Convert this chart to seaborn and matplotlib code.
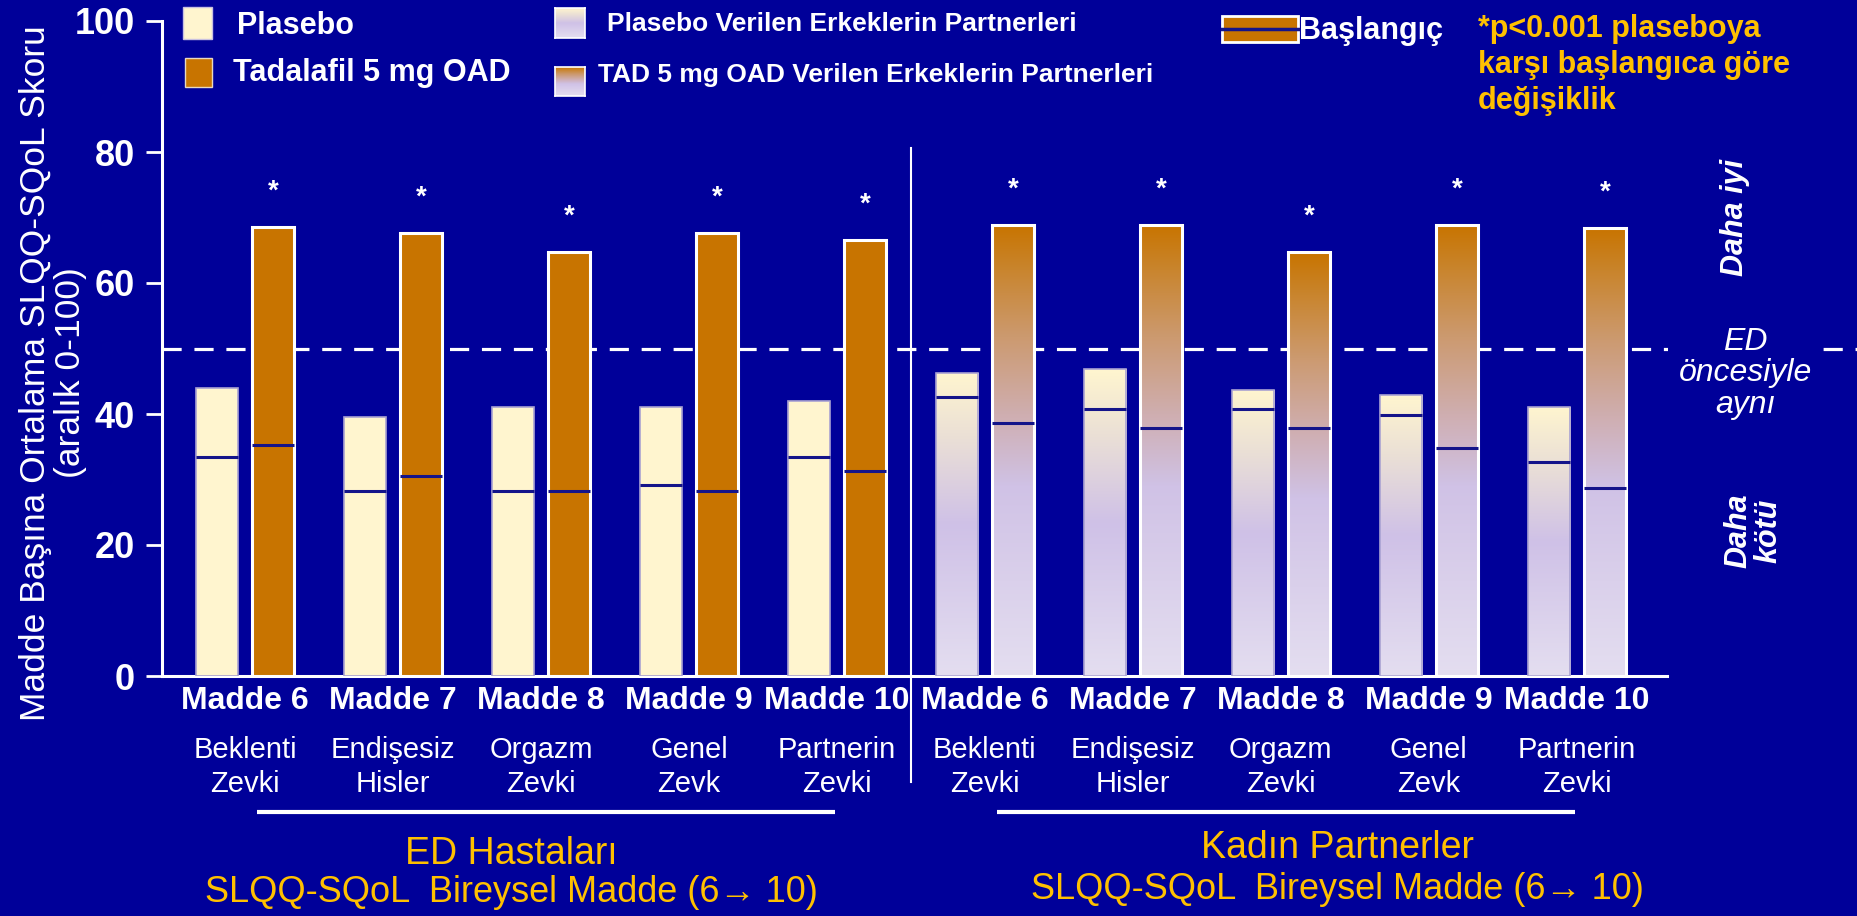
import numpy as np
import pandas as pd
import matplotlib
matplotlib.use("Agg")
import matplotlib.pyplot as plt
import matplotlib.transforms as mtransforms
from matplotlib.colors import LinearSegmentedColormap
from matplotlib.patches import Rectangle
from matplotlib.lines import Line2D
import seaborn as sns

plt.rcParams['font.family'] = ['Liberation Sans', 'DejaVu Sans']

# values
madde_adlari = ["Madde 6", "Madde 7", "Madde 8", "Madde 9", "Madde 10"]
madde_aciklama = ["Beklenti\nZevki", "Endişesiz\nHisler", "Orgazm\nZevki", "Genel\nZevk", "Partnerin\nZevki"]
gruplar = ["ED", "Partner"]
tedaviler = ["Plasebo", "Tadalafil 5 mg OAD"]

ed_plasebo = [44.0, 39.6, 41.0, 41.0, 42.0]
ed_tad = [68.6, 67.7, 64.7, 67.7, 66.5]
partner_plasebo = [46.3, 46.8, 43.6, 42.9, 41.1]
partner_tad = [68.9, 68.9, 64.7, 68.9, 68.4]

ed_plasebo_bas = [33.5, 28.3, 28.3, 29.1, 33.5]
ed_tad_bas = [35.2, 30.5, 28.3, 28.3, 31.3]
partner_plasebo_bas = [42.6, 40.8, 40.8, 39.9, 32.6]
partner_tad_bas = [38.7, 37.8, 37.8, 34.8, 28.7]

yildiz = ["*"] * 10

BG = "#000099"
KREM = "#FFF5CF"
TURUNCU = "#C87400"
LACI = "#14148A"
SARI = "#FFC000"

rows = []
for g, pl, td in [("ED", ed_plasebo, ed_tad), ("Partner", partner_plasebo, partner_tad)]:
    for m, a, b in zip(madde_adlari, pl, td):
        rows.append({"kat": f"{g} {m}", "tedavi": tedaviler[0], "skor": a})
        rows.append({"kat": f"{g} {m}", "tedavi": tedaviler[1], "skor": b})
df = pd.DataFrame(rows)
order = [f"{g} {m}" for g in gruplar for m in madde_adlari]

W, H = 1858, 916
fig = plt.figure(figsize=(W / 100, H / 100), dpi=100, facecolor=BG)
ax = fig.add_axes([162 / W, 1 - 676 / H, (1667 - 162) / W, (676 - 21) / H])
ax.set_facecolor(BG)

sns.barplot(data=df, x="kat", y="skor", hue="tedavi", order=order, hue_order=tedaviler,
            palette=[KREM, TURUNCU], saturation=1, width=0.76, gap=0.25,
            legend=False, ax=ax, zorder=3)

pl_bars, td_bars = ax.containers[0], ax.containers[1]
pl_bas = ed_plasebo_bas + partner_plasebo_bas
td_bas = ed_tad_bas + partner_tad_bas

pg = LinearSegmentedColormap.from_list("pg", [(0, "#E4DEF0"), (0.5, "#CFC1E7"), (0.78, "#EADFD6"), (1, "#FFF5CF")])
tg = LinearSegmentedColormap.from_list("tg", [(0, "#E4DEF0"), (0.42, "#D0C2E6"), (0.58, "#CFAEB0"),
                                              (0.75, "#CC9A70"), (0.9, "#C9852E"), (1, TURUNCU)])
grad = np.linspace(0, 1, 256).reshape(-1, 1)
n_ed = len(madde_adlari)

for bars, bas, cmap, ec, lw in [(pl_bars, pl_bas, pg, "#A9A2D2", 1.2), (td_bars, td_bas, tg, "white", 2.2)]:
    for i, p in enumerate(bars):
        p.set_edgecolor(ec)
        p.set_linewidth(lw)
        p.set_zorder(3)
        x0, w, h = p.get_x(), p.get_width(), p.get_height()
        if i >= n_ed:
            p.set_facecolor("none")
            im = ax.imshow(grad, extent=[x0, x0 + w, 0, h], origin="lower", aspect="auto",
                           cmap=cmap, zorder=2.5)
            im.set_clip_path(p)
        ax.hlines(bas[i], x0, x0 + w, color=LACI, lw=2.2, zorder=4)

for i, p in enumerate(td_bars):
    ax.text(p.get_x() + p.get_width() / 2, p.get_height() + 5.4, yildiz[i], color="white",
            ha="center", va="center", fontsize=20, fontweight="bold")

ax.set_xlim(-0.561, 9.61)
ax.set_ylim(0, 100)
ax.set_yticks([0, 20, 40, 60, 80, 100])
ax.set_xticks(range(len(order)), labels=madde_adlari * 2)
ax.tick_params(axis="y", colors="white", length=11.5, width=2, labelsize=26, pad=8)
ax.tick_params(axis="x", colors="white", length=0, labelsize=23, pad=7)
for t in ax.get_xticklabels() + ax.get_yticklabels():
    t.set_fontweight("bold")
ax.set_xlabel("")
ax.set_ylabel("")
for s in ["top", "right"]:
    ax.spines[s].set_visible(False)
for s in ["left", "bottom"]:
    ax.spines[s].set_color("white")
    ax.spines[s].set_linewidth(2.2)

# reference line at 50 (same as before ED)
ax.axhline(50, xmin=0, xmax=(W - 162) / (1667 - 162), color="white", lw=2.3,
           ls=(0, (6, 4)), clip_on=False, zorder=1.5)
ax.axvline(n_ed - 0.5, ymin=-0.162, ymax=0.806, color="white", lw=1.5, clip_on=False)

tr = mtransforms.blended_transform_factory(ax.transData, ax.transAxes)
for i, a in enumerate(madde_aciklama * 2):
    ax.text(i, -0.139, a, transform=tr, ha="center", va="center", color="white",
            fontsize=21, linespacing=1.3)

for i0, i1 in [(0, n_ed - 1), (n_ed, 2 * n_ed - 1)]:
    ax.plot([i0 + 0.08, i1 - 0.01], [-0.208, -0.208], transform=tr, color="white",
            lw=3, clip_on=False, solid_capstyle="butt")

ax.text(1.8, -0.271, "ED Hastaları", transform=tr, ha="center", va="center", color=SARI, fontsize=27)
ax.text(1.8, -0.331, "SLQQ-SQoL  Bireysel Madde (6\u2192 10)", transform=tr, ha="center",
        va="center", color=SARI, fontsize=26)
ax.text(7.38, -0.262, "Kadın Partnerler", transform=tr, ha="center", va="center", color=SARI, fontsize=27)
ax.text(7.38, -0.326, "SLQQ-SQoL  Bireysel Madde (6\u2192 10)", transform=tr, ha="center",
        va="center", color=SARI, fontsize=26)

# right side annotations
ax.text(10.14, 46.2, "ED\nöncesiyle\naynı", ha="center", va="center", color="white",
        fontsize=23, style="italic", linespacing=1.05, clip_on=False,
        bbox=dict(facecolor=BG, edgecolor="none", pad=8))
fig.text(1735 / W, 1 - 217 / H, "Daha iyi", rotation=90, ha="center", va="center",
         color="white", fontsize=22, fontweight="bold", style="italic")
fig.text(1753 / W, 1 - 531 / H, "Daha\nkötü", rotation=90, ha="center", va="center",
         color="white", fontsize=22, fontweight="bold", style="italic", linespacing=1.0)

fig.text(53 / W, 1 - 373 / H, "Madde Başına Ortalama SLQQ-SQoL Skoru\n(aralık 0-100)", rotation=90,
         ha="center", va="center", color="white", fontsize=25.5, linespacing=1.05)

# legend
def fbox(x0, y0, x1, y1):
    return [x0 / W, 1 - y1 / H, (x1 - x0) / W, (y1 - y0) / H]

fig.patches.append(Rectangle((183 / W, 1 - 39 / H), 29 / W, 32 / H,
                             transform=fig.transFigure, facecolor=KREM, edgecolor="#C8C0E0", lw=1))
fig.patches.append(Rectangle((185 / W, 1 - 87 / H), 27 / W, 29 / H, transform=fig.transFigure,
                             facecolor=TURUNCU, edgecolor="#E8D8C0", lw=1))
fig.text(237 / W, 1 - 26 / H, tedaviler[0], color="white", fontsize=22, fontweight="bold", va="center")
fig.text(233 / W, 1 - 73 / H, tedaviler[1], color="white", fontsize=22, fontweight="bold", va="center")

for (y0, y1), cmap in [((8, 38), pg), ((67, 96), tg)]:
    lax = fig.add_axes(fbox(555, y0, 585, y1))
    lax.imshow(grad, origin="lower", aspect="auto", cmap=cmap)
    lax.set_xticks([])
    lax.set_yticks([])
    for s in lax.spines.values():
        s.set_color("white")
        s.set_linewidth(1.2)
fig.text(607 / W, 1 - 24 / H, "Plasebo Verilen Erkeklerin Partnerleri", color="white",
         fontsize=19, fontweight="bold", va="center")
fig.text(598 / W, 1 - 75 / H, "TAD 5 mg OAD Verilen Erkeklerin Partnerleri", color="white",
         fontsize=19, fontweight="bold", va="center")

fig.patches.append(Rectangle((1222 / W, 1 - 42 / H), 76 / W, 26 / H, transform=fig.transFigure,
                             facecolor=TURUNCU, edgecolor="white", lw=2))
fig.lines.append(Line2D([1222 / W, 1298 / W], [1 - 29 / H, 1 - 29 / H], transform=fig.transFigure,
                        color=LACI, lw=2.5))
fig.text(1299 / W, 1 - 31 / H, "Başlangıç", color="white", fontsize=22, fontweight="bold", va="center")
fig.text(1478 / W, 1 - 65 / H, "*p<0.001 plaseboya\nkarşı başlangıca göre\ndeğişiklik", color=SARI,
         fontsize=22, fontweight="bold", va="center", linespacing=1.25)

fig.savefig("out.png", dpi=100, facecolor=BG)
